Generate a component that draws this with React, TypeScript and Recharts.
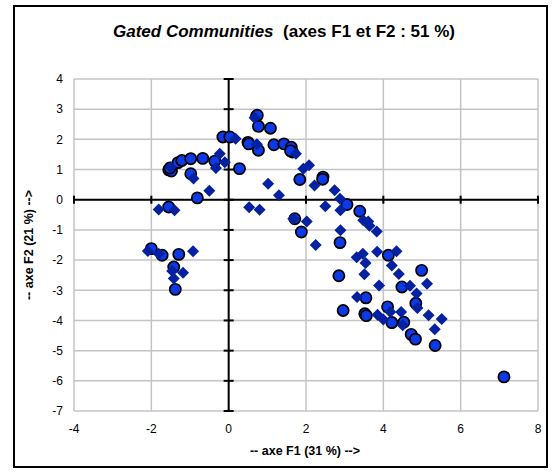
import {
  CartesianGrid,
  ReferenceDot,
  ReferenceLine,
  Scatter,
  ScatterChart,
  XAxis,
  YAxis,
} from "recharts"

// circle markers (F1, F2)
const circlePoints = [
  { x: -2.0, y: -1.62 }, { x: -1.72, y: -1.84 }, { x: -1.29, y: -1.81 }, { x: -1.42, y: -2.23 },
  { x: -1.38, y: -2.97 }, { x: -1.55, y: -0.24 },
  { x: -1.55, y: 0.99 }, { x: -1.48, y: 0.95 }, { x: -1.52, y: 1.05 }, { x: -1.31, y: 1.23 },
  { x: -1.21, y: 1.3 }, { x: -0.98, y: 1.36 }, { x: -0.67, y: 1.37 }, { x: -0.36, y: 1.28 },
  { x: -0.98, y: 0.86 }, { x: -0.81, y: 0.06 },
  { x: -0.15, y: 2.08 }, { x: 0.03, y: 2.08 }, { x: 0.28, y: 1.03 },
  { x: 0.5, y: 1.9 }, { x: 0.52, y: 1.85 }, { x: 0.77, y: 1.64 }, { x: 0.72, y: 2.76 },
  { x: 0.74, y: 2.8 }, { x: 0.77, y: 2.43 }, { x: 1.08, y: 2.37 }, { x: 1.17, y: 1.82 },
  { x: 1.43, y: 1.85 }, { x: 1.62, y: 1.74 }, { x: 1.65, y: 1.58 }, { x: 1.6, y: 1.62 },
  { x: 1.84, y: 0.67 }, { x: 2.44, y: 0.75 }, { x: 2.43, y: 0.68 }, { x: 3.06, y: -0.16 },
  { x: 3.39, y: -0.38 }, { x: 1.71, y: -0.63 }, { x: 1.88, y: -1.07 }, { x: 2.88, y: -1.42 },
  { x: 2.85, y: -2.52 }, { x: 2.96, y: -3.67 },
  { x: 4.13, y: -1.84 }, { x: 4.99, y: -2.34 }, { x: 4.48, y: -2.89 }, { x: 4.84, y: -3.43 },
  { x: 3.55, y: -3.25 }, { x: 3.52, y: -3.78 }, { x: 3.56, y: -3.84 }, { x: 4.11, y: -3.55 },
  { x: 4.22, y: -4.07 }, { x: 4.53, y: -4.06 }, { x: 4.72, y: -4.46 }, { x: 4.83, y: -4.62 },
  { x: 5.34, y: -4.83 }, { x: 7.12, y: -5.87 },
]

// diamond markers (F1, F2)
const diamondPoints = [
  { x: -2.09, y: -1.7 }, { x: -1.81, y: -1.79 }, { x: -0.92, y: -1.71 }, { x: -1.46, y: -2.36 },
  { x: -1.18, y: -2.42 }, { x: -1.42, y: -2.61 },
  { x: -1.81, y: -0.32 }, { x: -1.4, y: -0.35 }, { x: -1.5, y: 1.08 },
  { x: -0.91, y: 0.7 }, { x: -0.5, y: 0.3 }, { x: -0.23, y: 1.52 }, { x: -0.33, y: 1.05 },
  { x: -0.1, y: 1.24 }, { x: 0.18, y: 2.02 }, { x: 0.73, y: 1.84 }, { x: 0.67, y: 2.72 },
  { x: 0.53, y: -0.25 }, { x: 0.8, y: -0.33 }, { x: 1.02, y: 0.53 }, { x: 1.3, y: 0.15 },
  { x: 1.74, y: 1.52 }, { x: 1.93, y: 1.03 }, { x: 2.08, y: 1.14 }, { x: 2.22, y: 0.47 },
  { x: 2.74, y: 0.31 }, { x: 2.88, y: 0.03 }, { x: 2.5, y: -0.22 }, { x: 2.89, y: -0.35 },
  { x: 1.67, y: -0.63 }, { x: 2.02, y: -0.72 }, { x: 2.89, y: -1.01 }, { x: 2.25, y: -1.5 },
  { x: 3.48, y: -0.68 }, { x: 3.61, y: -0.72 }, { x: 3.64, y: -0.86 }, { x: 3.83, y: -1.05 },
  { x: 3.31, y: -1.91 }, { x: 3.47, y: -1.79 }, { x: 3.54, y: -2.1 }, { x: 3.51, y: -2.47 },
  { x: 3.84, y: -1.72 }, { x: 4.34, y: -1.71 }, { x: 4.22, y: -2.18 }, { x: 4.4, y: -2.46 },
  { x: 3.89, y: -2.84 }, { x: 4.69, y: -2.85 }, { x: 4.86, y: -3.11 }, { x: 5.13, y: -2.78 },
  { x: 4.88, y: -3.59 }, { x: 3.32, y: -3.22 }, { x: 3.85, y: -3.81 }, { x: 4.0, y: -3.97 },
  { x: 4.18, y: -3.72 }, { x: 4.46, y: -3.72 }, { x: 4.5, y: -4.16 }, { x: 5.17, y: -3.83 },
  { x: 5.51, y: -3.95 }, { x: 5.33, y: -4.29 },
]

const xTicks = [-4, -2, 0, 2, 4, 6, 8]
const yTicks = [-7, -6, -5, -4, -3, -2, -1, 0, 1, 2, 3, 4]

const FONT = "'Liberation Sans', Arial, sans-serif"
const CIRCLE_FILL = "#0b3ae6"
const DIAMOND_FILL = "#0521a0"

const CircleMark = (props: any) => (
  <circle cx={props.cx} cy={props.cy} r={5.6} fill={CIRCLE_FILL} stroke="#000" strokeWidth={1.7} />
)

const DiamondMark = (props: any) => {
  const { cx, cy } = props
  const d = 6
  return <polygon points={`${cx},${cy - d} ${cx + d},${cy} ${cx},${cy + d} ${cx - d},${cy}`} fill={DIAMOND_FILL} />
}

export default function App() {
  const tickStyle = { fontSize: 12, fill: "#000", fontFamily: FONT }
  return (
    <div style={{ position: "absolute", left: 0, top: 0, width: 553, height: 472, background: "#fff" }}>
      <div
        style={{
          position: "absolute", left: 13, top: 5, width: 535, height: 463,
          border: "2px solid #000", boxSizing: "border-box",
        }}
      />
      <div
        style={{
          position: "absolute", left: 284, top: 32, transform: "translate(-50%, -50%)",
          fontFamily: FONT, fontWeight: "bold", fontSize: 17, whiteSpace: "pre",
        }}
      >
        <i>Gated Communities</i>{"  (axes F1 et F2 : 51 %)"}
      </div>
      <div
        style={{
          position: "absolute", left: 29, top: 245, transform: "translate(-50%, -50%) rotate(-90deg)",
          fontFamily: FONT, fontWeight: "bold", fontSize: 12.5, whiteSpace: "pre",
        }}
      >
        -- axe F2 (21 %) --&gt;
      </div>
      <div
        style={{
          position: "absolute", left: 305, top: 451, transform: "translate(-50%, -50%)",
          fontFamily: FONT, fontWeight: "bold", fontSize: 12.5, whiteSpace: "pre",
        }}
      >
        -- axe F1 (31 %) --&gt;
      </div>
      <ScatterChart
        width={553}
        height={472}
        margin={{ top: 79, right: 15, bottom: 31, left: 44 }}
        style={{ position: "absolute", left: 0, top: 0 }}
      >
        <CartesianGrid stroke="#c4c4c4" strokeWidth={1.5} horizontalValues={yTicks} verticalValues={xTicks} />
        <XAxis
          type="number" dataKey="x" domain={[-4, 8]} ticks={xTicks} height={30}
          axisLine={false} tickLine={false} tickSize={0} tickMargin={13} tick={tickStyle}
          allowDataOverflow
        />
        <YAxis
          type="number" dataKey="y" domain={[-7, 4]} ticks={yTicks} width={30}
          axisLine={false} tickLine={false} tickSize={0} tickMargin={11} tick={tickStyle}
          allowDataOverflow
        />
        <ReferenceLine x={0} stroke="#000" strokeWidth={2} />
        <ReferenceLine y={0} stroke="#000" strokeWidth={2} />
        {yTicks.map(v => (
          <ReferenceDot
            key={`yt-${v}`} x={0} y={v}
            shape={(p: any) => <line x1={p.cx - 5} x2={p.cx + 5} y1={p.cy} y2={p.cy} stroke="#000" strokeWidth={2} />}
          />
        ))}
        {xTicks.filter(v => v !== 0).map(v => (
          <ReferenceDot
            key={`xt-${v}`} x={v} y={0}
            shape={(p: any) => <line x1={p.cx} x2={p.cx} y1={p.cy - 4} y2={p.cy + 4} stroke="#000" strokeWidth={2} />}
          />
        ))}
        <Scatter data={circlePoints} shape={CircleMark} isAnimationActive={false} />
        <Scatter data={diamondPoints} shape={DiamondMark} isAnimationActive={false} />
      </ScatterChart>
    </div>
  )
}
